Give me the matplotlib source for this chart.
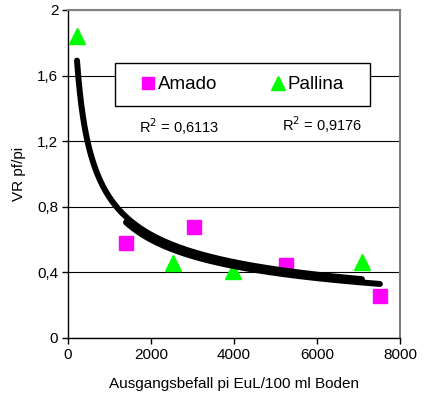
import matplotlib
matplotlib.use('Agg')
import matplotlib.pyplot as plt
from matplotlib.patches import Rectangle
import numpy as np

plt.rcParams['font.family'] = ['Liberation Sans', 'DejaVu Sans']

# Ausgangsbefall pi (EuL/100 ml Boden) and VR pf/pi
amado_x = [1398, 3036, 5253, 7518]
amado_y = [0.579, 0.677, 0.445, 0.256]
pallina_x = [217, 2530, 3976, 7084]
pallina_y = [1.84, 0.457, 0.41, 0.463]

y_ticks = [0, 0.4, 0.8, 1.2, 1.6, 2]
y_ticklabels = ['0', '0,4', '0,8', '1,2', '1,6', '2']
x_ticks = [0, 2000, 4000, 6000, 8000]


def power_fit(x, y):
    # Excel-style power trendline y = a * x^b
    b, lna = np.polyfit(np.log(x), np.log(y), 1)
    xs = np.linspace(min(x), max(x), 200)
    return xs, np.exp(lna) * xs ** b


fig = plt.figure(figsize=(4.25, 3.98), dpi=100)
ax = fig.add_axes([0.16, 0.1508, 0.781, 0.8241])

ax.plot(amado_x, amado_y, 's', color='#FF00FF', markersize=10, label='Amado', zorder=3)
ax.plot(pallina_x, pallina_y, '^', color='#00FF00', markersize=11, label='Pallina', zorder=3)

for xd, yd in [(amado_x, amado_y), (pallina_x, pallina_y)]:
    xs, ys = power_fit(xd, yd)
    ax.plot(xs, ys, color='black', lw=4.3, solid_capstyle='round', zorder=4)

ax.set_xlim(0, 8000)
ax.set_ylim(0, 2)
ax.set_xticks(x_ticks)
ax.set_xticklabels([str(t) for t in x_ticks])
ax.set_yticks(y_ticks)
ax.set_yticklabels(y_ticklabels)
ax.tick_params(labelsize=11, direction='out', length=4, width=1, pad=3)
ax.grid(axis='y', color='black', lw=0.8)
ax.set_axisbelow(True)

for s in ['top', 'right']:
    ax.spines[s].set_color('#808080')
    ax.spines[s].set_linewidth(1.5)
for s in ['left', 'bottom']:
    ax.spines[s].set_color('black')
    ax.spines[s].set_linewidth(1)

ax.set_xlabel('Ausgangsbefall pi EuL/100 ml Boden', fontsize=11, labelpad=11)
ax.set_ylabel('VR pf/pi', fontsize=11, labelpad=8)

ax.text(0.215, 0.625, 'R$^2$ = 0,6113', transform=ax.transAxes, fontsize=10.5)
ax.text(0.645, 0.63, 'R$^2$ = 0,9176', transform=ax.transAxes, fontsize=10.5)

# legend frame drawn separately so the entries can sit centred inside it
ax.add_patch(Rectangle((0.1416, 0.707), 0.768, 0.131, transform=ax.transAxes,
                       facecolor='white', edgecolor='black', lw=1, zorder=5))
leg = ax.legend(loc='center', bbox_to_anchor=(0.527, 0.7725), ncol=2, fontsize=13.5,
                frameon=False, handlelength=0.7, markerscale=0.9,
                handletextpad=0.15, columnspacing=2.9)
leg.set_zorder(6)

fig.savefig('out.png', dpi=100)
